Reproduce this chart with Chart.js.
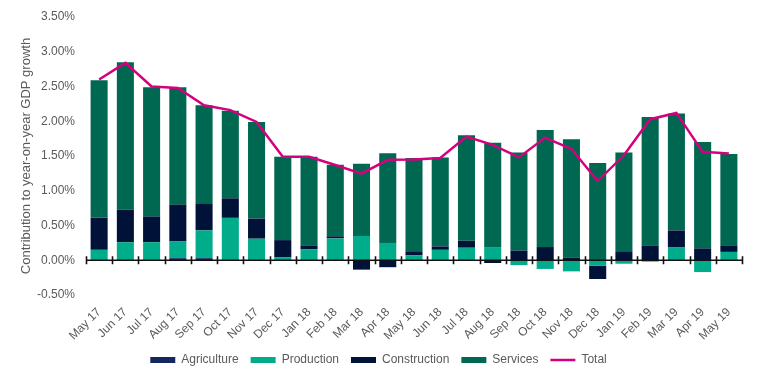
<!DOCTYPE html>
<html>
<head>
<meta charset="utf-8">
<script src="https://cdn.jsdelivr.net/npm/chart.js@4/dist/chart.umd.min.js"></script>
<style>
  html, body { margin: 0; padding: 0; background: #fff; }
  #wrap { width: 757px; height: 378px; }
</style>
</head>
<body>
<div id="wrap"><canvas id="gdp-chart"></canvas></div>
<script>
const months = [`May 17`, `Jun 17`, `Jul 17`, `Aug 17`, `Sep 17`, `Oct 17`, `Nov 17`, `Dec 17`, `Jan 18`, `Feb 18`, `Mar 18`, `Apr 18`,
    `May 18`, `Jun 18`, `Jul 18`, `Aug 18`, `Sep 18`, `Oct 18`, `Nov 18`, `Dec 18`, `Jan 19`, `Feb 19`, `Mar 19`, `Apr 19`, `May 19`]

const agriculture = [0.00, 0.00, 0.00, 0.03, 0.03, 0.01, 0.01, 0.01, 0.00, 0.00, 0.00, 0.00,
    0.01, 0.00, 0.00, 0.00, 0.00, 0.00, 0.00, 0.00, 0.00, 0.00, 0.00, 0.00, 0.00]
const production = [0.15, 0.26, 0.26, 0.24, 0.40, 0.60, 0.30, 0.03, 0.16, 0.315, 0.35, 0.25,
    0.06, 0.15, 0.18, 0.19, -0.07, -0.125, -0.16, -0.08, -0.05, -0.02, 0.19, -0.17, 0.12]
const construction = [0.46, 0.47, 0.37, 0.53, 0.38, 0.28, 0.29, 0.25, 0.05, 0.03, -0.135, -0.10,
    0.05, 0.05, 0.10, -0.04, 0.14, 0.19, 0.04, -0.19, 0.12, 0.21, 0.24, 0.17, 0.095]
const services = [1.98, 2.12, 1.86, 1.69, 1.42, 1.26, 1.39, 1.20, 1.28, 1.03, 1.04, 1.29,
    1.35, 1.28, 1.52, 1.50, 1.41, 1.685, 1.70, 1.40, 1.43, 1.85, 1.68, 1.53, 1.315]
const total = [2.60, 2.84, 2.50, 2.48, 2.23, 2.16, 1.99, 1.49, 1.49, 1.37, 1.245, 1.445,
    1.45, 1.47, 1.78, 1.66, 1.48, 1.765, 1.60, 1.14, 1.51, 2.03, 2.12, 1.56, 1.535]

const font_family = `"Liberation Sans", Arial, sans-serif`
const text_color = `#5a5a5a`

// zero line with little tick marks between the months
const zeroAxis = {
    id: `zeroAxis`,
    afterDatasetsDraw(chart) {
        const ctx = chart.ctx
        const area = chart.chartArea
        const y0 = chart.scales.y.getPixelForValue(0)
        const n = chart.data.labels.length
        const step = (area.right - area.left) / n
        ctx.save()
        ctx.strokeStyle = `#111`
        ctx.lineWidth = 1.6
        ctx.beginPath()
        ctx.moveTo(area.left, y0)
        ctx.lineTo(area.right, y0)
        for (let i = 0; i <= n; i++) {
            const xb = Math.round(area.left + i * step) + 0.5
            ctx.moveTo(xb, y0 - 4)
            ctx.lineTo(xb, y0 + 4)
        }
        ctx.stroke()
        ctx.restore()
    }
}

const bar = (label, data, color) => ({
    type: `bar`,
    label: label,
    data: data,
    backgroundColor: color,
    stack: `parts`,
    order: 1,
    barPercentage: 0.65,
    categoryPercentage: 1
})

const chart = new Chart(document.getElementById(`gdp-chart`), {
    data: {
        labels: months,
        datasets: [
            bar(`Agriculture`, agriculture, `#14285f`),
            bar(`Production`, production, `#00ac8a`),
            bar(`Construction`, construction, `#001238`),
            bar(`Services`, services, `#006751`),
            {
                type: `line`,
                label: `Total`,
                data: total,
                borderColor: `#d6007f`,
                backgroundColor: `#d6007f`,
                borderWidth: 2.5,
                pointRadius: 0,
                tension: 0,
                stack: `total`,
                order: 0
            }
        ]
    },
    plugins: [zeroAxis],
    options: {
        responsive: true,
        maintainAspectRatio: false,
        animation: false,
        layout: { padding: { left: 15, right: 15, top: 17, bottom: 2 } },
        plugins: {
            tooltip: { enabled: false },
            legend: {
                position: `bottom`,
                labels: {
                    usePointStyle: true,
                    pointStyleWidth: 25,
                    boxHeight: 6,
                    padding: 12,
                    color: text_color,
                    font: { family: font_family, size: 12 },
                    generateLabels: (c) => c.data.datasets.map((ds, i) => ({
                        text: ds.label,
                        datasetIndex: i,
                        fillStyle: ds.backgroundColor,
                        strokeStyle: ds.type === `line` ? ds.borderColor : ds.backgroundColor,
                        lineWidth: ds.type === `line` ? 2.5 : 0,
                        pointStyle: ds.type === `line` ? `line` : `rect`,
                        fontColor: text_color,
                        hidden: false
                    }))
                }
            }
        },
        scales: {
            x: {
                stacked: true,
                offset: true,
                grid: { display: false },
                border: { display: false },
                afterFit: (scale) => { scale.height = 47 },
                ticks: {
                    minRotation: 45,
                    maxRotation: 45,
                    padding: 2,
                    color: text_color,
                    font: { family: font_family, size: 12 }
                }
            },
            y: {
                stacked: true,
                min: -0.5,
                max: 3.5,
                grid: { display: false },
                border: { display: false },
                afterFit: (scale) => { scale.width = 71 },
                ticks: {
                    stepSize: 0.5,
                    padding: 3,
                    color: text_color,
                    font: { family: font_family, size: 12 },
                    callback: (v) => v.toFixed(2) + `%`
                },
                title: {
                    display: true,
                    text: `Contribution to year-on-year GDP growth`,
                    color: text_color,
                    font: { family: font_family, size: 13 },
                    padding: 4
                }
            }
        }
    }
})
</script>
</body>
</html>
